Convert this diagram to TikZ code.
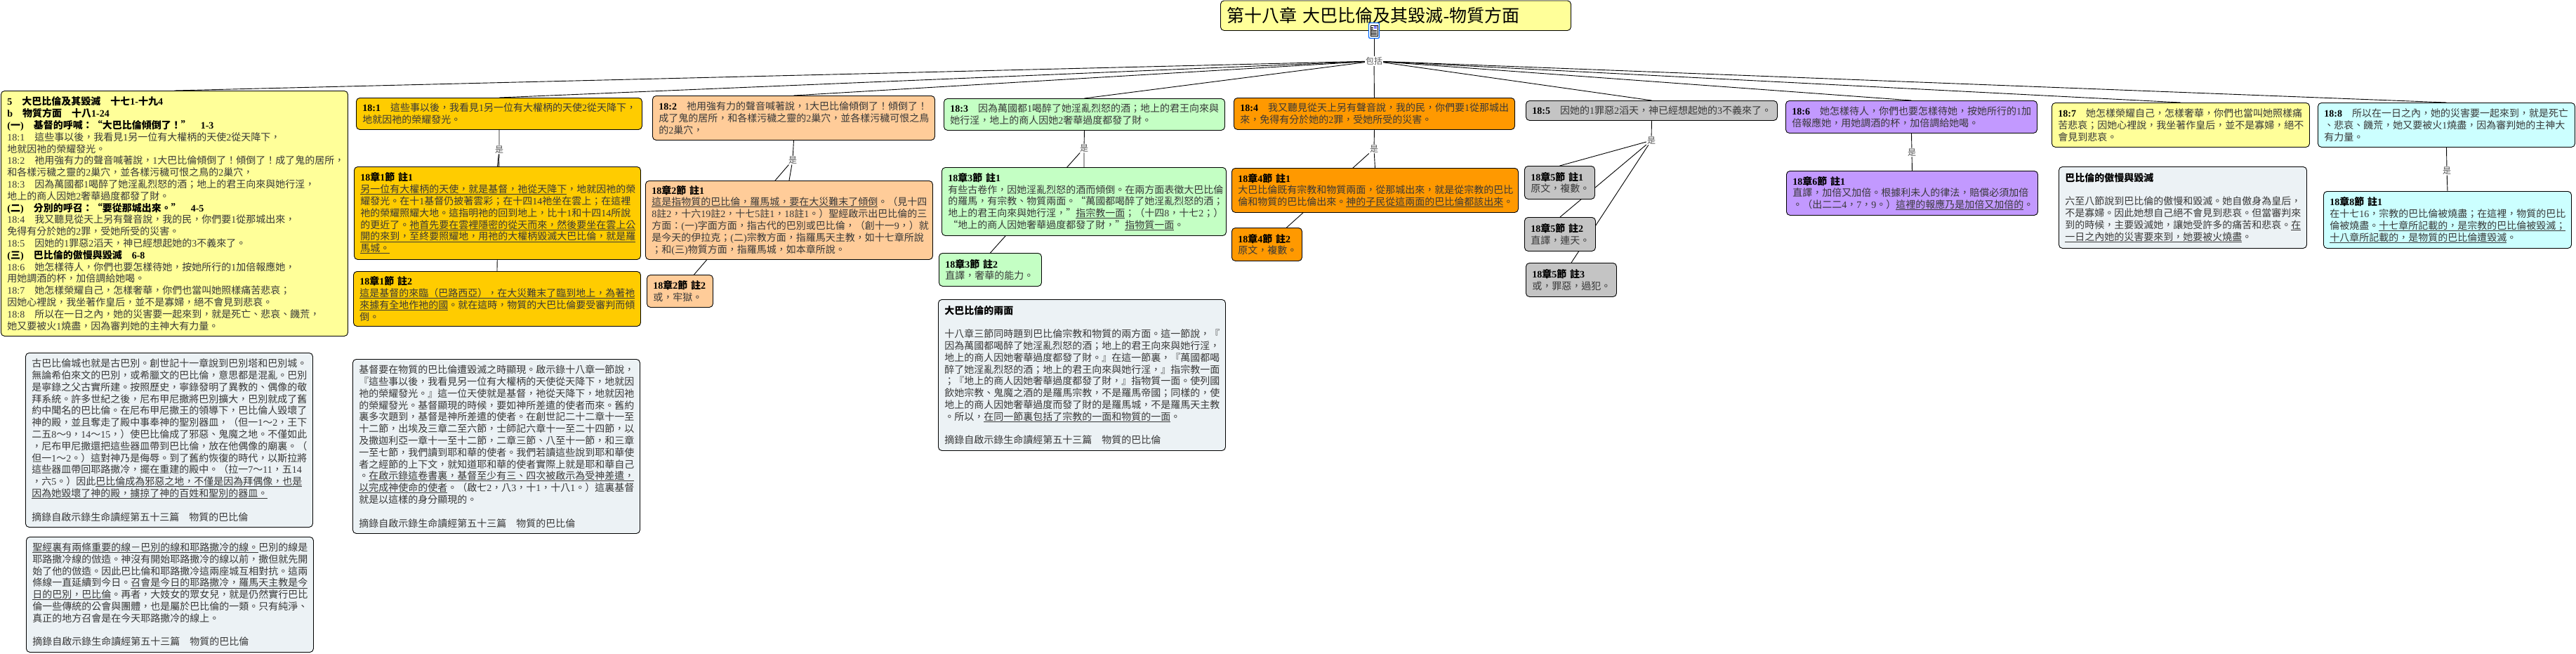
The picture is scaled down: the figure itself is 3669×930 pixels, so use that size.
\documentclass[tikz,border=0pt]{standalone}
\usepackage{fontspec}
\usepackage{xcolor}
\usetikzlibrary{backgrounds}
\setmainfont{Noto Sans CJK TC}
\newfontfamily\cjkf{Noto Sans CJK TC}
\newfontfamily\lat{Liberation Serif}
\newXeTeXintercharclass\latcls
\makeatletter
\@tempcnta=`0
\loop\ifnum\@tempcnta<`:
  \XeTeXcharclass\@tempcnta=\latcls
  \advance\@tempcnta by 1
\repeat
\makeatother
\XeTeXcharclass`:=\latcls
\XeTeXcharclass`-=\latcls
\XeTeXcharclass`(=\latcls
\XeTeXcharclass`)=\latcls
\XeTeXcharclass`b=\latcls
\XeTeXinterchartoks 0 \latcls={\lat}
\XeTeXinterchartoks \latcls 0={\cjkf}
\XeTeXinterchartoks 4095 \latcls={\lat}
\XeTeXinterchartoks 4095 0={\cjkf}
\newcommand\ul[1]{\leavevmode\setbox0=\hbox{#1}\rlap{\rule[-2.4pt]{\wd0}{0.8pt}}\box0 }
\newcommand\hd[1]{{\bfseries\color{black}#1}}
\newcommand\mlsrc{摘錄自啟示錄生命讀經第五十三篇　物質的巴比倫}
\definecolor{cYel}{HTML}{FFFF99}
\definecolor{cAmb}{HTML}{FFCC00}
\definecolor{cPea}{HTML}{FFCC99}
\definecolor{cGrn}{HTML}{C4FFC4}
\definecolor{cOra}{HTML}{FF9900}
\definecolor{cGry}{HTML}{C4C4C4}
\definecolor{cPur}{HTML}{C299FF}
\definecolor{cCya}{HTML}{CCFFFF}
\definecolor{cPal}{HTML}{ECF2F5}
\tikzset{
  boxbase/.style={draw=black,line width=0.9pt,rounded corners=5pt,anchor=north west,inner xsep=0pt,inner ysep=0pt,align=left,text=black!78,
    font=\fontsize{14}{16.8}\selectfont},
  link/.style={draw=black,line width=0.9pt},
  lab/.style={fill=white,inner sep=1pt,text=black!65,font=\fontsize{12}{14}\selectfont},
}
\newcommand\bx[7]{%
  \pgfmathsetmacro\bw{#5-#3}\pgfmathsetmacro\bh{#6-#4}\pgfmathsetmacro\tw{\bw-18}%
  \node[boxbase,#2,minimum width=\bw pt,minimum height=\bh pt,text width=\tw pt] (#1) at (#3,#4) {#7};}
\begin{document}
\lineskiplimit=-20pt
\XeTeXinterchartokenstate=1
\begin{tikzpicture}[x=1pt,y=-1pt]
\path[use as bounding box] (0,0) rectangle (3669,930);
% title
\bx{title}{fill=cYel,text=black,font=\fontsize{25}{28}\selectfont}{1738}{0.5}{2237}{43}{第十八章 大巴比倫及其毀滅-物質方面}
\node[draw=blue!60!cyan,line width=1.2pt,fill=white,rounded corners=2pt,minimum width=15pt,minimum height=22pt,inner sep=0pt] (icon) at (1957,43.5) {};
\draw[line width=0.8pt] (1952,36) rectangle (1962,51);
\fill[blue!50] (1957,37) rectangle (1961,41);
\foreach \yy in {39,41}{\draw[line width=0.6pt] (1953,\yy) -- (1956,\yy);}
\foreach \yy in {43,45,47,49}{\draw[line width=0.6pt] (1953,\yy) -- (1961,\yy);}
% main boxes
\bx{va}{fill=cYel}{1}{129}{495}{478}{%
\hd{5　大巴比倫及其毀滅　十七1-十九4}\\
\hd{b　物質方面　十八1-24}\\
\hd{(一)　基督的呼喊：“大巴比倫傾倒了！”　1-3}\\
18:1　這些事以後，我看見1另一位有大權柄的天使2從天降下，\\
地就因祂的榮耀發光。\\
18:2　祂用強有力的聲音喊著說，1大巴比倫傾倒了！傾倒了！成了鬼的居所，\\
和各樣污穢之靈的2巢穴，並各樣污穢可恨之鳥的2巢穴，\\
18:3　因為萬國都1喝醉了她淫亂烈怒的酒；地上的君王向來與她行淫，\\
地上的商人因她2奢華過度都發了財。\\
\hd{(二)　分別的呼召：“要從那城出來。”　4-5}\\
18:4　我又聽見從天上另有聲音說，我的民，你們要1從那城出來，\\
免得有分於她的2罪，受她所受的災害。\\
18:5　因她的1罪惡2滔天，神已經想起她的3不義來了。\\
\hd{(三)　巴比倫的傲慢與毀滅　6-8}\\
18:6　她怎樣待人，你們也要怎樣待她，按她所行的1加倍報應她，\\
用她調酒的杯，加倍調給她喝。\\
18:7　她怎樣榮耀自己，怎樣奢華，你們也當叫她照樣痛苦悲哀；\\
因她心裡說，我坐著作皇后，並不是寡婦，絕不會見到悲哀。\\
18:8　所以在一日之內，她的災害要一起來到，就是死亡、悲哀、饑荒，\\
她又要被火1燒盡，因為審判她的主神大有力量。}
\bx{ga}{fill=cPal}{36}{502}{445}{750}{%
古巴比倫城也就是古巴別。創世記十一章說到巴別塔和巴別城。\\
無論希伯來文的巴別，或希臘文的巴比倫，意思都是混亂。巴別\\
是寧錄之父古實所建。按照歷史，寧錄發明了異教的、偶像的敬\\
拜系統。許多世紀之後，尼布甲尼撒將巴別擴大，巴別就成了舊\\
約中聞名的巴比倫。在尼布甲尼撒王的領導下，巴比倫人毀壞了\\
神的殿，並且奪走了殿中事奉神的聖別器皿，（但一1～2，王下\\
二五8～9，14～15，）使巴比倫成了邪惡、鬼魔之地。不僅如此\\
，尼布甲尼撒還把這些器皿帶到巴比倫，放在他偶像的廟裏。（\\
但一1～2。）這對神乃是侮辱。到了舊約恢復的時代，以斯拉將\\
這些器皿帶回耶路撒冷，擺在重建的殿中。（拉一7～11，五14\\
，六5。）因此\ul{巴比倫成為邪惡之地，不僅是因為拜偶像，也是}\\
\ul{因為她毀壞了神的殿，擄掠了神的百姓和聖別的器皿。}\\[16.8pt]
\mlsrc}
\bx{gb}{fill=cPal}{37}{764}{446}{928}{%
\ul{聖經裏有兩條重要的線－巴別的線和耶路撒冷的線。}巴別的線是\\
耶路撒冷線的倣造。神沒有開始耶路撒冷的線以前，撒但就先開\\
始了他的倣造。因此巴比倫和耶路撒冷這兩座城互相對抗。這兩\\
條線一直延續到今日。\ul{召會是今日的耶路撒冷，羅馬天主教是今}\\
\ul{日的巴別，巴比倫}。再者，大妓女的眾女兒，就是仍然實行巴比\\
倫一些傳統的公會與團體，也是屬於巴比倫的一類。只有純淨、\\
真正的地方召會是在今天耶路撒冷的線上。\\[16.8pt]
\mlsrc}
% 18:1
\bx{va1}{fill=cAmb}{507}{139}{914}{184}{\hd{18:1}　這些事以後，我看見1另一位有大權柄的天使2從天降下，\\地就因祂的榮耀發光。}
\bx{na1}{fill=cAmb}{504}{237}{912}{369}{\hd{18章1節 註1}\\
\ul{另一位有大權柄的天使，就是基督，祂從天降下}，地就因祂的榮\\
耀發光。在十1基督仍披著雲彩；在十四14祂坐在雲上；在這裡\\
祂的榮耀照耀大地。這指明祂的回到地上，比十1和十四14所說\\
的更近了。\ul{祂首先要在雲裡隱密的從天而來，然後要坐在雲上公}\\
\ul{開的來到，至終要照耀地，用祂的大權柄毀滅大巴比倫，就是羅}\\
\ul{馬城。}}
\bx{na2}{fill=cAmb}{503}{386}{912}{464}{\hd{18章1節 註2}\\
\ul{這是基督的來臨（巴路西亞），在大災難末了臨到地上，為著祂}\\
\ul{來據有全地作祂的國}。就在這時，物質的大巴比倫要受審判而傾\\
倒。}
\bx{gc}{fill=cPal}{502}{511}{911}{759}{%
基督要在物質的巴比倫遭毀滅之時顯現。啟示錄十八章一節說，\\
『這些事以後，我看見另一位有大權柄的天使從天降下，地就因\\
祂的榮耀發光。』這一位天使就是基督，祂從天降下，地就因祂\\
的榮耀發光。基督顯現的時候，要如神所差遣的使者而來。舊約\\
裏多次題到，基督是神所差遣的使者。在創世記二十二章十一至\\
十二節，出埃及三章二至六節，士師記六章十一至二十四節，以\\
及撒迦利亞一章十一至十二節，二章三節、八至十一節，和三章\\
一至七節，我們讀到耶和華的使者。我們若讀這些說到耶和華使\\
者之經節的上下文，就知道耶和華的使者實際上就是耶和華自己\\
。\ul{在啟示錄這卷書裏，基督至少有三、四次被啟示為受神差遣，}\\
\ul{以完成神使命的使者}。（啟七2，八3，十1，十八1。）這裏基督\\
就是以這樣的身分顯現的。\\[16.8pt]
\mlsrc}
% 18:2
\bx{vb1}{fill=cPea}{929}{136}{1331}{199}{\hd{18:2}　祂用強有力的聲音喊著說，1大巴比倫傾倒了！傾倒了！\\
成了鬼的居所，和各樣污穢之靈的2巢穴，並各樣污穢可恨之鳥\\
的2巢穴，}
\bx{nb1}{fill=cPea}{919}{257}{1328}{369}{\hd{18章2節 註1}\\
\ul{這是指物質的巴比倫，羅馬城，要在大災難末了傾倒}。（見十四\\
8註2，十六19註2，十七5註1，18註1。）聖經啟示出巴比倫的三\\
方面：(一)字面方面，指古代的巴別或巴比倫，（創十一9，）就\\
是今天的伊拉克；(二)宗教方面，指羅馬天主教，如十七章所說\\
；和(三)物質方面，指羅馬城，如本章所說。}
\bx{nb2}{fill=cPea}{921}{391}{1015}{437}{\hd{18章2節 註2}\\或，牢獄。}
% 18:3
\bx{vc1}{fill=cGrn}{1344}{140}{1744}{185}{\hd{18:3}　因為萬國都1喝醉了她淫亂烈怒的酒；地上的君王向來與\\她行淫，地上的商人因她2奢華過度都發了財。}
\bx{nc1}{fill=cGrn}{1341}{238}{1746}{335}{\hd{18章3節 註1}\\
有些古卷作，因她淫亂烈怒的酒而傾倒。在兩方面表徵大巴比倫\\
的羅馬，有宗教、物質兩面。“萬國都喝醉了她淫亂烈怒的酒；\\
地上的君王向來與她行淫，”\ul{指宗教一面}；（十四8，十七2；）\\
“地上的商人因她奢華過度都發了財，”\ul{指物質一面}。}
\bx{nc2}{fill=cGrn}{1337}{360}{1483}{407}{\hd{18章3節 註2}\\直譯，奢華的能力。}
\bx{gd}{fill=cPal}{1336}{426}{1745}{641}{\hd{大巴比倫的兩面}\\[16.8pt]
十八章三節同時題到巴比倫宗教和物質的兩方面。這一節說，『\\
因為萬國都喝醉了她淫亂烈怒的酒；地上的君王向來與她行淫，\\
地上的商人因她奢華過度都發了財。』在這一節裏，『萬國都喝\\
醉了她淫亂烈怒的酒；地上的君王向來與她行淫，』指宗教一面\\
；『地上的商人因她奢華過度都發了財，』指物質一面。使列國\\
飲她宗教、鬼魔之酒的是羅馬宗教，不是羅馬帝國；同樣的，使\\
地上的商人因她奢華過度而發了財的是羅馬城，不是羅馬天主教\\
。所以，\ul{在同一節裏包括了宗教的一面和物質的一面}。\\[16.8pt]
\mlsrc}
% 18:4
\bx{vd1}{fill=cOra}{1757}{139}{2157}{184}{\hd{18:4}　我又聽見從天上另有聲音說，我的民，你們要1從那城出\\來，免得有分於她的2罪，受她所受的災害。}
\bx{nd1}{fill=cOra}{1754}{239}{2162}{302}{\hd{18章4節 註1}\\
大巴比倫既有宗教和物質兩面，從那城出來，就是從宗教的巴比\\
倫和物質的巴比倫出來。\ul{神的子民從這兩面的巴比倫都該出來}。}
\bx{nd2}{fill=cOra}{1754}{324}{1854}{371}{\hd{18章4節 註2}\\原文，複數。}
% 18:5
\bx{ve1}{fill=cGry}{2173}{143}{2531}{171}{\hd{18:5}　因她的1罪惡2滔天，神已經想起她的3不義來了。}
\bx{ne1}{fill=cGry}{2171}{236}{2271}{283}{\hd{18章5節 註1}\\原文，複數。}
\bx{ne2}{fill=cGry}{2171}{309}{2272}{357}{\hd{18章5節 註2}\\直譯，連天。}
\bx{ne3}{fill=cGry}{2173}{374}{2302}{422}{\hd{18章5節 註3}\\或，罪惡，過犯。}
% 18:6
\bx{vf1}{fill=cPur}{2543}{143}{2901}{189}{\hd{18:6}　她怎樣待人，你們也要怎樣待她，按她所行的1加\\倍報應她，用她調酒的杯，加倍調給她喝。}
\bx{nf1}{fill=cPur}{2544}{243}{2902}{306}{\hd{18章6節 註1}\\
直譯，加倍又加倍。根據利未人的律法，賠償必須加倍\\
。（出二二4，7，9。）\ul{這裡的報應乃是加倍又加倍的}。}
% 18:7
\bx{vg1}{fill=cYel}{2922}{146}{3289}{209}{\hd{18:7}　她怎樣榮耀自己，怎樣奢華，你們也當叫她照樣痛\\
苦悲哀；因她心裡說，我坐著作皇后，並不是寡婦，絕不\\
會見到悲哀。}
\bx{ge}{fill=cPal}{2932}{237}{3285}{353}{\hd{巴比倫的傲慢與毀滅}\\[16.8pt]
六至八節說到巴比倫的傲慢和毀滅。她自傲身為皇后，\\
不是寡婦。因此她想自己絕不會見到悲哀。但當審判來\\
到的時候，主要毀滅她，讓她受許多的痛苦和悲哀。\ul{在}\\
\ul{一日之內她的災害要來到，她要被火燒盡}。}
% 18:8
\bx{vh1}{fill=cCya}{3301}{146}{3667}{209}{\hd{18:8}　所以在一日之內，她的災害要一起來到，就是死亡\\
、悲哀、饑荒，她又要被火1燒盡，因為審判她的主神大\\
有力量。}
\bx{nh1}{fill=cCya}{3309}{272}{3662}{353}{\hd{18章8節 註1}\\
在十七16，宗教的巴比倫被燒盡；在這裡，物質的巴比\\
倫被燒盡。\ul{十七章所記載的，是宗教的巴比倫被毀滅；}\\
\ul{十八章所記載的，是物質的巴比倫遭毀滅}。}
% labels
\node[lab] (l0) at (1957,87) {包括};
\node[lab] (la) at (711,213) {是};
\node[lab] (lb) at (1129,228) {是};
\node[lab] (lc) at (1544,211) {是};
\node[lab] (ld) at (1957,212) {是};
\node[lab] (le) at (2352,200) {是};
\node[lab] (lf) at (2723,217) {是};
\node[lab] (lh) at (3485,243) {是};
% connectors behind everything
\begin{pgfonlayer}{background}
\fill[white] (0,0) rectangle (3669,930);
\draw[link] (icon.south) -- (l0);
\foreach \t in {va,va1,vb1,vc1,vd1,ve1,vf1,vg1,vh1}{\draw[link] (l0) -- (\t.north);}
\draw[link] (va1.south) -- (la); \draw[link] (la) -- (na1.north); \draw[link] (la) -- (na2.north);
\draw[link] (vb1.south) -- (lb); \draw[link] (lb) -- (nb1.north); \draw[link] (lb) -- ([xshift=20pt]nb2.north);
\draw[link] (vc1.south) -- (lc); \draw[link] (lc) -- (nc1.north); \draw[link] (lc) -- (nc2.north);
\draw[link] (vd1.south) -- (ld); \draw[link] (ld) -- (nd1.north); \draw[link] (ld) -- ([xshift=28pt]nd2.north);
\draw[link] (ve1.south) -- (le); \draw[link] (le) -- (ne1.north); \draw[link] (le) -- (ne2.north); \draw[link] (le) -- (ne3.north);
\draw[link] (vf1.south) -- (lf); \draw[link] (lf) -- (nf1.north);
\draw[link] (vh1.south) -- (lh); \draw[link] (lh) -- (nh1.north);
\end{pgfonlayer}
\end{tikzpicture}
\end{document}
